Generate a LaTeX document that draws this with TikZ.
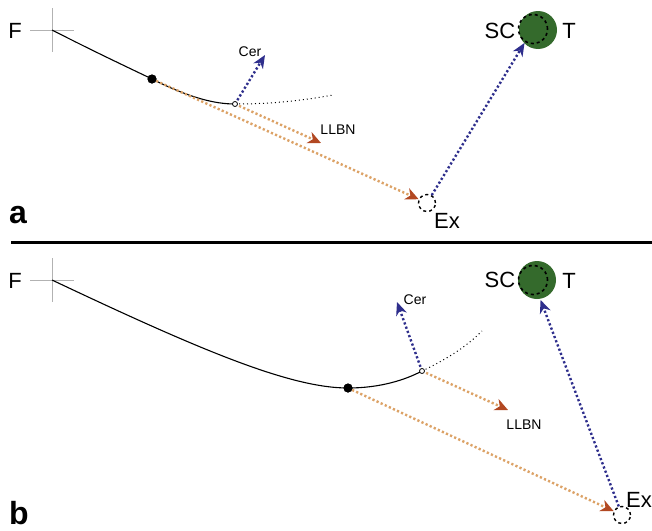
\documentclass[tikz,border=0pt]{standalone}
\usepackage{fontspec}
\setmainfont{Liberation Sans}
\usetikzlibrary{arrows.meta}
\definecolor{tgtgreen}{RGB}{52,106,44}
\definecolor{navyln}{RGB}{46,46,140}
\definecolor{tanln}{RGB}{220,162,102}
\definecolor{tipred}{RGB}{178,72,34}
\tikzset{
  crossln/.style={gray!60, line width=0.9pt},
  traj/.style={black, line width=1.1pt},
  trajdot/.style={black, line width=1pt, dash pattern=on 1pt off 3pt},
  tanarrow/.style={tanln, line width=2.4pt, dash pattern=on 2.2pt off 2.3pt,
    -{Stealth[length=13pt,width=12pt,inset=4pt,color=tipred]}},
  bluearrow/.style={navyln, line width=2.4pt, dash pattern=on 2.2pt off 2.3pt,
    -{Stealth[length=13pt,width=11pt,inset=4pt,color=navyln]}},
  smallc/.style={circle, draw, fill=white, line width=0.8pt, inner sep=0pt, minimum size=5pt},
  bigdot/.style={circle, fill=black, inner sep=0pt, minimum size=9pt},
  exc/.style={circle, draw, dashed, line width=1.4pt, inner sep=0pt, minimum size=17pt},
  tgt/.style={circle, fill=tgtgreen, inner sep=0pt, minimum size=38pt},
  scc/.style={circle, draw, dashed, line width=1.6pt, inner sep=0pt, minimum size=29pt},
  biglbl/.style={font=\fontsize{22}{25}\selectfont, inner sep=0pt},
  smalllbl/.style={font=\fontsize{14}{16}\selectfont, inner sep=0pt},
  panellbl/.style={font=\fontsize{32}{35}\selectfont\bfseries, inner sep=0pt},
}
\begin{document}
\begin{tikzpicture}[x=1pt,y=-1pt]
\fill[white] (0,0) rectangle (652,530);
\useasboundingbox (0,0) rectangle (652,530);

% ---------------- panel a ----------------
\coordinate (Fa) at (52,30);
\draw[crossln] (30,30) -- (74,30) (52,8) -- (52,52);
\node[biglbl] (Flbla) at (15,31) {F};
\node[bigdot] (dota) at (152,79) {};
\coordinate (ena) at (333,95);
\node[tgt] (Ta) at (538,30) {};
\node[scc] (SCa) at (533,29) {};
\node[exc] (Exa) at (427,203) {};
\coordinate (cera) at (265,55);
\coordinate (llbna) at (321,143);
\draw[traj] (Fa) .. controls (95,52) and (125,66) .. (dota.center)
  .. controls (190,98) and (215,104) .. (235,104) coordinate (cpa);
\draw[trajdot] (cpa) .. controls (270,104) and (300,101) .. (ena);
\draw[tanarrow] (dota.center) -- (Exa);
\draw[tanarrow] (cpa) -- (llbna);
\draw[bluearrow] (cpa) -- (cera);
\draw[bluearrow, shorten >=1pt] (Exa) -- (SCa);
\node[bigdot] at (dota) {};
\node[smallc] (ca) at (cpa) {};
\node[smalllbl] (cerlbla) at (250,52) {Cer};
\node[smalllbl] (llbnlbla) at (338,130) {LLBN};
\node[biglbl] (exlbla) at (447,221) {Ex};
\node[biglbl] (sclbla) at (500,31) {SC};
\node[biglbl] (tlbla) at (569,31) {T};
\node[panellbl] (pa) at (18,215) {a};

% divider
\draw[line width=3pt] (11,242) -- (652,242);

% ---------------- panel b ----------------
\coordinate (Fb) at (52,280);
\draw[crossln] (30,280) -- (74,280) (52,258) -- (52,302);
\node[biglbl] (Flblb) at (15,281) {F};
\node[bigdot] (dotb) at (348,388) {};
\coordinate (enb) at (482,331);
\node[tgt] (Tb) at (537,280) {};
\node[scc] (SCb) at (533,280) {};
\node[exc] (Exb) at (622,515) {};
\coordinate (cerb) at (397,302);
\coordinate (llbnb) at (508,410);
\draw[traj] (Fb) .. controls (200,350) and (290,388) .. (dotb.center)
  .. controls (380,388) and (405,380) .. (422,371) coordinate (cpb);
\draw[trajdot] (cpb) .. controls (445,360) and (465,348) .. (enb);
\draw[tanarrow] (dotb.center) -- (Exb);
\draw[tanarrow] (cpb) -- (llbnb);
\draw[bluearrow] (cpb) -- (cerb);
\draw[bluearrow, shorten >=6pt] (Exb) -- (SCb);
\node[bigdot] at (dotb) {};
\node[smallc] (cb) at (cpb) {};
\node[smalllbl] (cerlblb) at (415,300) {Cer};
\node[smalllbl] (llbnlblb) at (524,425) {LLBN};
\node[biglbl, anchor=east] (exlblb) at (652,500) {Ex};
\node[biglbl] (sclblb) at (500,280) {SC};
\node[biglbl] (tlblb) at (569,281) {T};
\node[panellbl] (pb) at (19,513) {b};
\end{tikzpicture}
\end{document}
